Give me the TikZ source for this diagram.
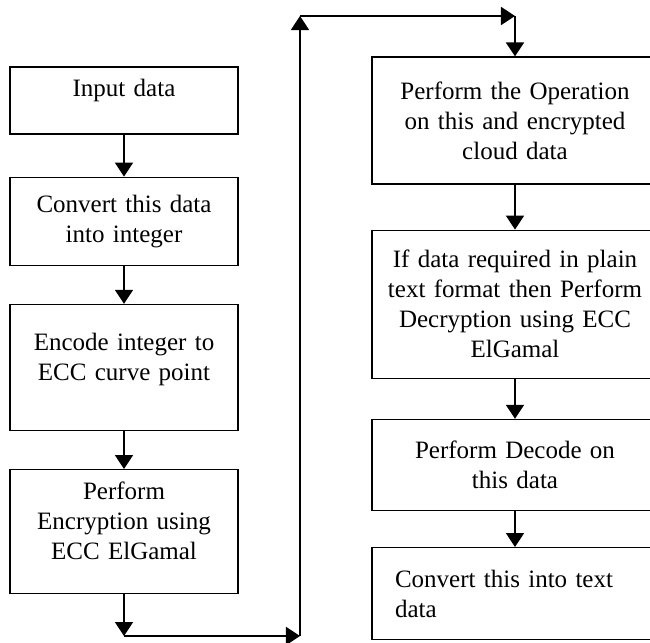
\documentclass[tikz,border=0pt]{standalone}
\usepackage{fontspec}
\setmainfont{Liberation Serif}
\usetikzlibrary{arrows.meta, positioning}

\begin{document}
\begin{tikzpicture}[x=0.5pt,y=-0.5pt,node distance=20pt,font=\fontsize{12.5}{15}\selectfont]
\tikzstyle{lbox}=[draw,line width=0.6pt,text width=106pt,inner xsep=4pt,align=center]
\tikzstyle{rbox}=[draw,line width=0.6pt,text width=133pt,inner xsep=5pt,align=center]
\tikzstyle{flow}=[-{Triangle[width=9pt,length=7pt]},line width=0.9pt]

\useasboundingbox (0,0) rectangle (650,643);

% left column
\node[lbox,minimum height=33.5pt,text depth=13pt] (input) at (124,100.5) {Input data};
\node[lbox,minimum height=44pt] (conv) [below=21pt of input] {Convert this data\\into integer};
\node[lbox,minimum height=63pt,text depth=26pt] (encode) [below=19pt of conv] {Encode integer to\\ECC curve point};
\node[lbox,minimum height=62pt,text depth=41pt] (encrypt) [below=19pt of encode] {Perform\\Encryption using\\ECC ElGamal};

% right column
\node[rbox,minimum height=63.5pt] (oper) at (515,120.5) {Perform the Operation\\on this and encrypted\\cloud data};
\node[rbox,minimum height=74pt] (decrypt) [below=22.5pt of oper] {If data required in plain\\text format then Perform\\Decryption using ECC\\ElGamal};
\node[rbox,minimum height=45.5pt] (decode) [below=of decrypt] {Perform Decode on\\this data};
\node[rbox,minimum height=46pt,align=left,text width=120pt,inner xsep=11.5pt] (totext) [below=18pt of decode] {Convert this into text\\data};

\coordinate (rise) at (300,636);
\coordinate (top) at (300,16);

\path
  (input) edge [flow] (conv)
  (conv) edge [flow] (encode)
  (encode) edge [flow] (encrypt)
  (encrypt) edge [flow] (encrypt.south |- rise)
  (encrypt.south |- rise) edge [flow] (rise)
  (rise) edge [flow] (top)
  (top) edge [flow] (oper.north |- top)
  (oper.north |- top) edge [flow] (oper)
  (oper) edge [flow] (decrypt)
  (decrypt) edge [flow] (decode)
  (decode) edge [flow] (totext);
\end{tikzpicture}
\end{document}
